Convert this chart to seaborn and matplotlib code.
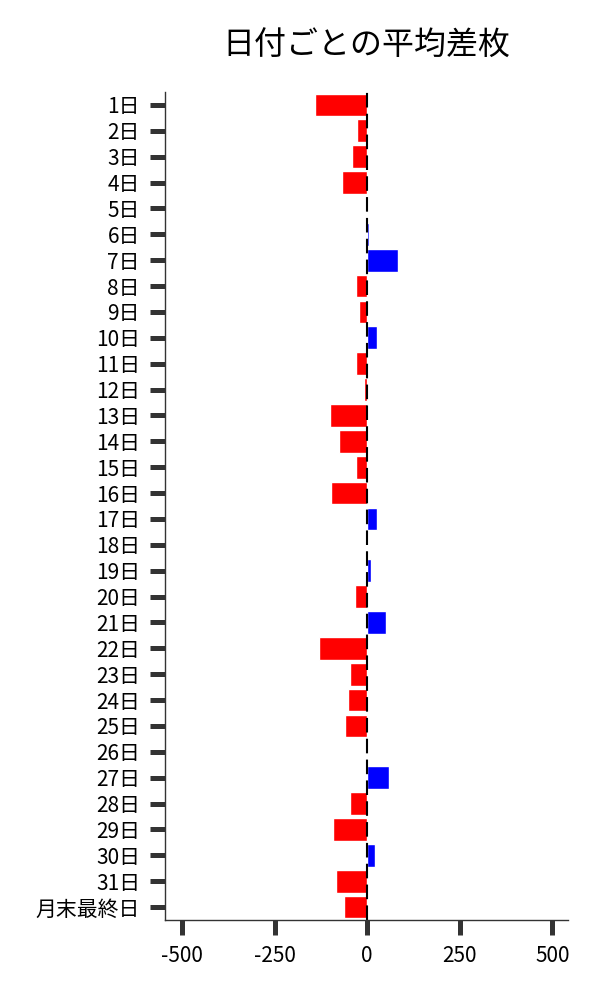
"""日付ごとの平均差枚 — 横棒グラフ."""

import matplotlib.pyplot as plt
import pandas as pd
import seaborn as sns

# 日付ラベルと平均差枚
日付 = [f"{d}日" for d in range(1, 32)] + ["月末最終日"]
平均差枚 = [
    -140, -27, -40, -68, -1, 5, 84, -30, -22, 27,
    -30, -8, -100, -76, -30, -97, 27, -1, 11, -32,
    51, -130, -46, -51, -59, -2, 59, -46, -92, 22,
    -84, -62,
]
x目盛 = [-500, -250, 0, 250, 500]

sns.set_style("white")
plt.rcParams["font.family"] = ["Noto Sans CJK JP", "DejaVu Sans"]

df = pd.DataFrame({"日付": 日付, "差枚": 平均差枚})
df["符号"] = ["プラス" if v > 0 else "マイナス" for v in df["差枚"]]

fig, ax = plt.subplots(figsize=(6, 10), dpi=100)
fig.subplots_adjust(left=0.275, right=0.947, bottom=0.08, top=0.908)

sns.barplot(
    data=df, x="差枚", y="日付", hue="符号", orient="h",
    palette={"プラス": "#0000ff", "マイナス": "#ff0000"},
    width=0.88, dodge=False, legend=False, saturation=1, ax=ax,
)
ax.axvline(0, color="black", linestyle=(0, (7, 3)), linewidth=1.5, zorder=1)

ax.set_xlim(-546, 543)
ax.set_xticks(x目盛)
ax.set_xticklabels([str(v) for v in x目盛])
ax.set_xlabel("")
ax.set_ylabel("")
ax.set_title("日付ごとの平均差枚", fontsize=23, pad=27, color="black")

ax.tick_params(axis="both", bottom=True, left=True, length=11, width=3.6,
               color="#333333", labelsize=15, pad=7, labelcolor="black")
sns.despine(ax=ax)
for side in ["left", "bottom"]:
    ax.spines[side].set_color("#333333")
    ax.spines[side].set_linewidth(1.0)

plt.savefig("out.png", dpi=100)
plt.close()
